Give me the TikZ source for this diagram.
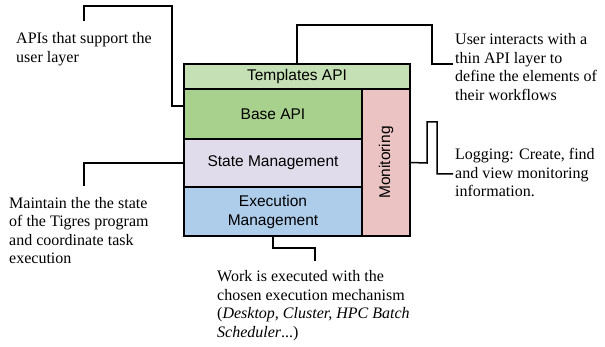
\documentclass[tikz,border=0pt]{standalone}
\usepackage{fontspec}
\setmainfont{Liberation Serif}
\setsansfont{Liberation Sans}
\definecolor{tmplc}{HTML}{C5E0B4}
\definecolor{basec}{HTML}{A9D18E}
\definecolor{statec}{HTML}{E1DCEB}
\definecolor{execc}{HTML}{AECDEB}
\definecolor{monc}{HTML}{EAC3C2}
\begin{document}
\begin{tikzpicture}[x=1pt,y=-1pt,
  layer/.style={draw=black,line width=1.3pt,inner sep=0pt,outer sep=0pt,
    font=\sffamily\fontsize{15.5}{19}\selectfont,align=center},
  note/.style={anchor=base west,inner sep=0pt,align=left,
    font=\fontsize{16}{18.5}\selectfont},
  conn/.style={draw=black,line width=1.5pt}]
\useasboundingbox (0,0) rectangle (605,347);
% layers
\node[layer,fill=tmplc,minimum width=226pt,minimum height=25pt] (tmpl) at (297,76.5) {Templates API};
\node[layer,fill=basec,minimum width=178pt,minimum height=50pt] (base) at (273,114) {Base API};
\node[layer,fill=statec,minimum width=178pt,minimum height=48pt] (state) at (273,163) {State Management};
\node[layer,fill=execc,minimum width=178pt,minimum height=49pt] (exec) at (273,211.5) {Execution\\Management};
\node[layer,fill=monc,minimum width=48pt,minimum height=147pt] (mon) at (386,162.5) {};
\node[font=\sffamily\fontsize{15.5}{19}\selectfont,rotate=90,inner sep=0pt] (montxt) at (mon.center) {Monitoring};
% notes (anchor = baseline of last line)
\node[note] (n1) at (16,62.5) {APIs that support the\\user layer};
\node[note] (n2) at (455,100.5) {User interacts with a\\thin API layer to\\define the elements of\\their workflows};
\node[note] (n3) at (455,197) {Logging: Create, find\\and view monitoring\\information.};
\node[note] (n4) at (9,264) {Maintain the the state\\of the Tigres program\\and coordinate task\\execution};
\node[note] (n5) at (217,337.5) {Work is executed with the\\chosen execution mechanism\\(\textit{Desktop, Cluster, HPC Batch}\\\textit{Scheduler}...)};
% connector ends
\coordinate (e1) at (84,21);
\coordinate (e2) at (453,64);
\coordinate (e3) at (453,174);
\coordinate (e4) at (84,186);
\coordinate (e5) at (315,261);
% connectors
\draw[conn] ([yshift=8pt]base.west) -- ++(-12,0) |- (84,6) -- (e1);
\draw[conn] (tmpl.north) |- (432,25) |- (e2);
\draw[conn] (mon.east) -- (427,163) |- (437,122) |- (e3);
\draw[conn] (state.west) -| (e4);
\draw[conn] (exec.south) |- (315,248) -- (e5);
\end{tikzpicture}
\end{document}
